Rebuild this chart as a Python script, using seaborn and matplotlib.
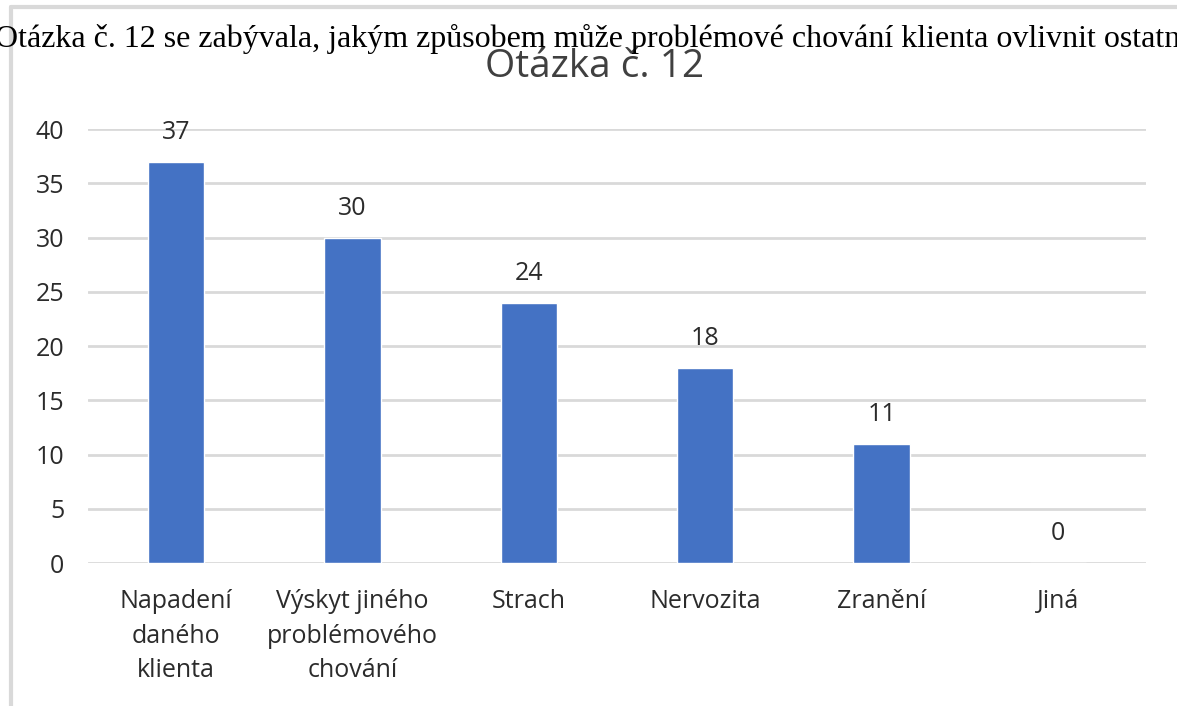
import numpy as np
import pandas as pd
import matplotlib
matplotlib.use("Agg")
import matplotlib.pyplot as plt
from matplotlib.lines import Line2D
import seaborn as sns

# Data
categories = ["Napadení\ndaného\nklienta", "Výskyt jiného\nproblémového\nchování",
              "Strach", "Nervozita", "Zranění", "Jiná"]
counts = [37, 30, 24, 18, 11, 0]
yticks = [0, 5, 10, 15, 20, 25, 30, 35, 40]

page_text = "Otázka č. 12 se zabývala, jakým způsobem může problémové chování klienta ovlivnit ostatní"
chart_title = "Otázka č. 12"

df = pd.DataFrame({"kategorie": categories, "pocet": counts})

sns.set_theme(style="white")
plt.rcParams["font.family"] = ["Open Sans", "DejaVu Sans"]

fig = plt.figure(figsize=(11.77, 7.06), dpi=100)
ax = fig.add_axes([0.0748, 0.2025, 0.899, 0.6147])

sns.barplot(data=df, x="kategorie", y="pocet", color="#4472C4", width=0.32,
            saturation=1, ax=ax, zorder=3)

ax.set_ylim(0, 40)
ax.set_yticks(yticks)
ax.yaxis.grid(True, color="#d9d9d9", linewidth=2, zorder=0)
ax.set_axisbelow(True)
for s in ax.spines.values():
    s.set_visible(False)
ax.set_xlabel("")
ax.set_ylabel("")
ax.tick_params(axis="both", length=0, labelsize=18, colors="#2b2b2b")
ax.tick_params(axis="y", pad=17)
ax.tick_params(axis="x", pad=19)
for lbl in ax.get_xticklabels():
    lbl.set_linespacing(1.5)

# value labels
for i, v in enumerate(counts):
    ax.annotate(str(v), (i, v), xytext=(0, 12), textcoords="offset points",
                ha="center", va="bottom", fontsize=18, color="#2b2b2b")

# chart title
fig.text(0.505, 0.905, chart_title, ha="center", va="center", fontsize=28, color="#404040")

# surrounding page text and frame
fig.text(-0.004, 0.945, page_text, ha="left", va="center", fontsize=23,
         family=["Liberation Serif", "DejaVu Serif"], color="black")
fig.add_artist(Line2D([0.009, 1.0], [0.990, 0.990], color="#d9d9d9", linewidth=3))
fig.add_artist(Line2D([0.0095, 0.0095], [0.0, 0.990], color="#d9d9d9", linewidth=3))

fig.savefig("out.png", dpi=100)
plt.close(fig)
